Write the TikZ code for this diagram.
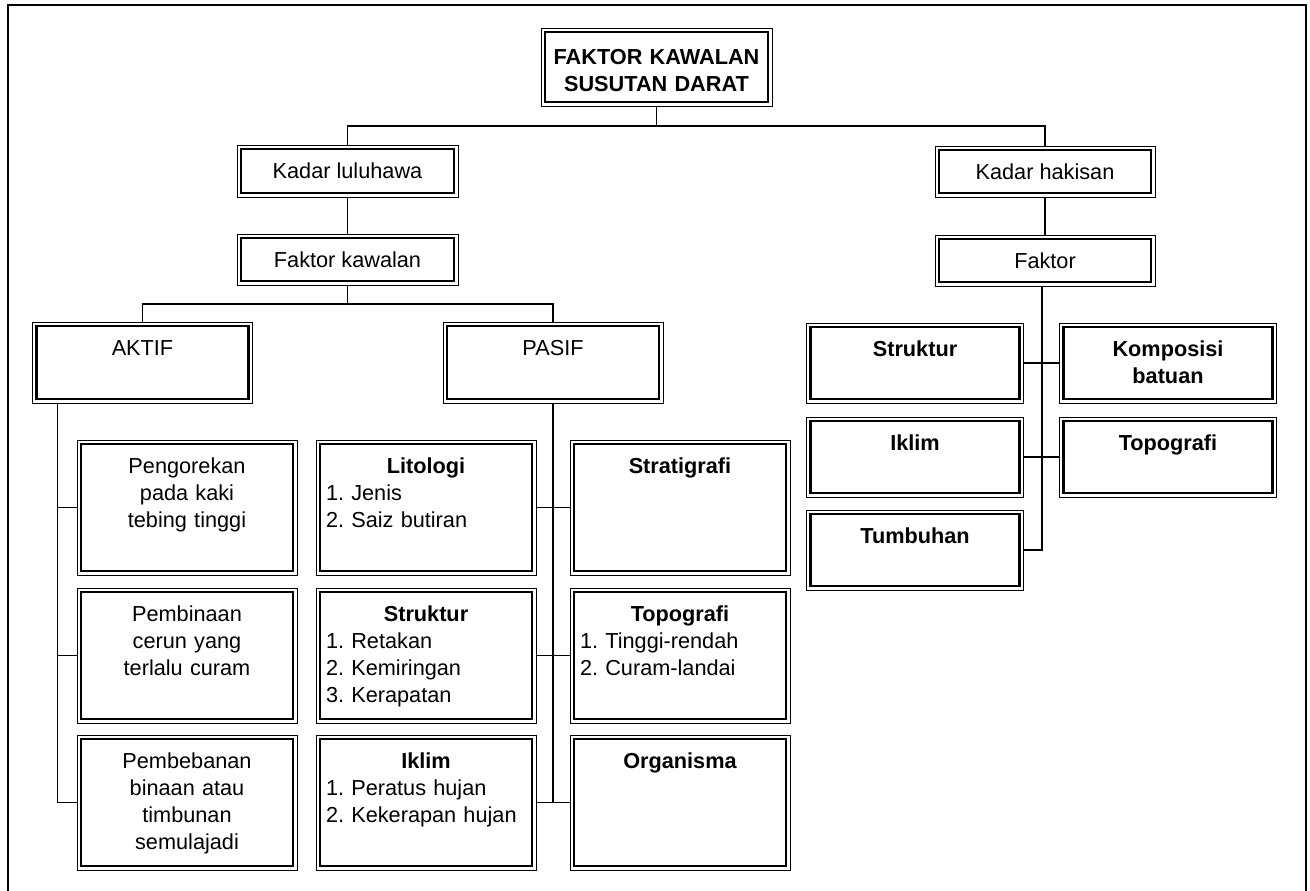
\documentclass[tikz,border=0pt]{standalone}
\usepackage{fontspec}
\setmainfont{Liberation Sans}
\frenchspacing
\newcommand\fs{\fontsize{21.7pt}{27pt}\selectfont\frenchspacing}
\newcommand\hd[1]{\hbox to\hsize{\hfil\textbf{#1}\hfil}}
\begin{document}
\begin{tikzpicture}[x=1pt,y=-1pt,
  dbox/.style={draw, line width=0.8pt, inner sep=0pt, outer sep=0pt, font=\fs,
    path picture={\draw[line width=2.8pt] ([shift={(4pt,-4pt)}]path picture bounding box.north west) rectangle ([shift={(-4pt,4pt)}]path picture bounding box.south east);}},
  cbox/.style 2 args={dbox, minimum width=#1pt, minimum height=#2pt, align=center},
  tbox/.style n args={3}{dbox, text width=#1pt, text height=33pt, text depth=#3pt, minimum width=#2pt},
  leaf/.style={tbox={200}{220}{102}},
  rbox/.style={tbox={203}{217}{47}, align=center},
  conn/.style={line width=1.1pt},
  frame/.style={line width=1.8pt},
]
\useasboundingbox (0,0) rectangle (1310,891);
\draw[frame] (8,891) -- (8,5) -- (1306,5) -- (1306,891);

% top
\node[dbox, minimum width=231pt, text width=217pt, text height=37pt, text depth=41pt, align=center] (top) at (656.5,67) {\textbf{FAKTOR KAWALAN}\\\textbf{SUSUTAN DARAT}};

% level 1 and 2
\node[cbox={221}{52}] (kl) at (347.5,171) {Kadar luluhawa};
\node[cbox={221}{51}] (fk) at (347.5,259.5) {Faktor kawalan};
\node[cbox={220}{51}] (kh) at (1045,171.5) {Kadar hakisan};
\node[cbox={220}{51}] (fr) at (1045,260.5) {Faktor};

% AKTIF / PASIF
\node[tbox={206}{220}{48}, align=center] (aktif) at (142.5,362.5) {AKTIF};
\node[tbox={206}{220}{48}, align=center] (pasif) at (553,362.5) {PASIF};

% AKTIF children
\node[leaf, align=center] (a1) at (187,507.5) {Pengorekan\\pada kaki\\tebing tinggi};
\node[leaf, align=center] (a2) at (187,655.5) {Pembinaan\\cerun yang\\terlalu curam};
\node[leaf, align=center] (a3) at (187,802.5) {Pembebanan\\binaan atau\\timbunan\\semulajadi};

% PASIF children
\node[leaf, align=left] (p1) at (426,507.5) {\hd{Litologi}\\1. Jenis\\2. Saiz butiran};
\node[leaf, align=left] (p2) at (426,655.5) {\hd{Struktur}\\1. Retakan\\2. Kemiringan\\3. Kerapatan};
\node[leaf, align=left] (p3) at (426,802.5) {\hd{Iklim}\\1. Peratus hujan\\2. Kekerapan hujan};
\node[leaf, align=left] (q1) at (680,507.5) {\hd{Stratigrafi}};
\node[leaf, align=left] (q2) at (680,655.5) {\hd{Topografi}\\1. Tinggi-rendah\\2. Curam-landai};
\node[leaf, align=left] (q3) at (680,802.5) {\hd{Organisma}};

% right side children
\node[rbox] (r1) at (915,363) {\textbf{Struktur}};
\node[rbox] (r2) at (1168,363) {\textbf{Komposisi}\\\textbf{batuan}};
\node[rbox] (r3) at (915,457) {\textbf{Iklim}};
\node[rbox] (r4) at (1168,457) {\textbf{Topografi}};
\node[rbox] (r5) at (915,550) {\textbf{Tumbuhan}};

% connectors
\draw[conn] (top.south) -- ++(0,20) coordinate (j0);
\draw[conn] (kl.north) |- (j0) -| (kh.north);
\draw[conn] (kl.south) -- (fk.north);
\draw[conn] (kh.south) -- (fr.north);
\draw[conn] (fk.south) -- ++(0,19) coordinate (j1);
\draw[conn] (aktif.north) |- (j1) -| (pasif.north);

\coordinate (as) at ([xshift=25pt]aktif.south west);
\draw[conn] (as) |- (a3.west);
\draw[conn] (a1.west) -- (a1.west -| as);
\draw[conn] (a2.west) -- (a2.west -| as);

\draw[conn] (pasif.south) -- (pasif.south |- p3.east);
\draw[conn] (p1.east) -- (q1.west);
\draw[conn] (p2.east) -- (q2.west);
\draw[conn] (p3.east) -- (q3.west);

\coordinate (rs) at ([xshift=-3pt]fr.south);
\draw[conn] (rs) |- (r5.east);
\draw[conn] (r1.east) -- (r2.west);
\draw[conn] (r3.east) -- (r4.west);
\end{tikzpicture}
\end{document}
